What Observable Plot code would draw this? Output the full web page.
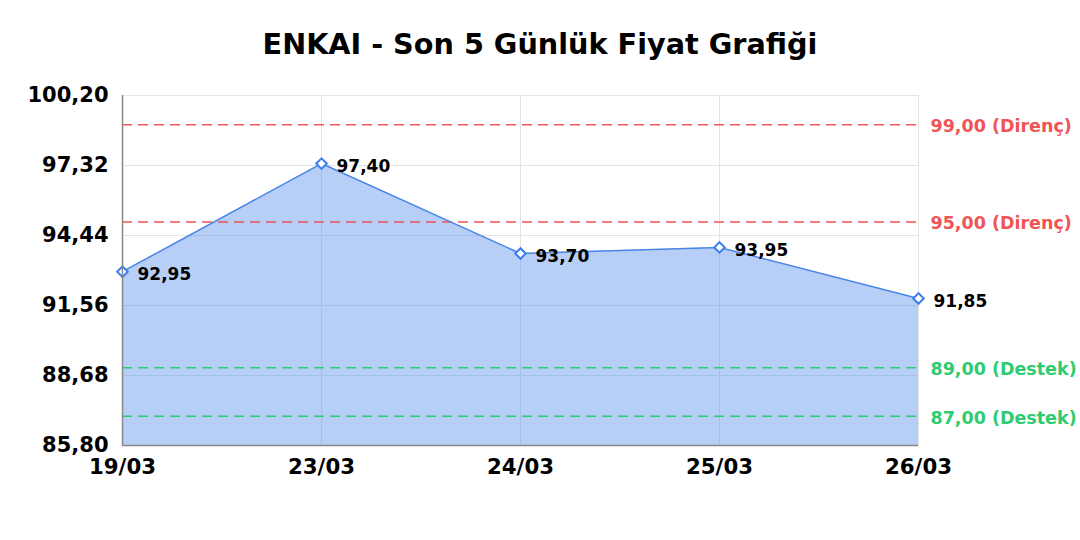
<!DOCTYPE html>
<html><head><meta charset="utf-8">
<script src="https://cdn.jsdelivr.net/npm/d3@7"></script>
<script src="https://cdn.jsdelivr.net/npm/@observablehq/plot@0.6"></script>
<style>
body{margin:0;background:#fff;font-family:"DejaVu Sans",sans-serif;}
#title{height:80px;box-sizing:border-box;padding-top:27px;text-align:center;font-weight:bold;font-size:28.7px;color:#000;line-height:34px;}
svg{display:block;}
</style></head><body>
<div id="title">ENKAI - Son 5 Günlük Fiyat Grafiği</div>
<div id="chart"></div>
<script>
const dates = ["19/03","23/03","24/03","25/03","26/03"];
const prices = [92.95, 97.40, 93.70, 93.95, 91.85];
const yTicks = [85.80, 88.68, 91.56, 94.44, 97.32, 100.20];
const resistance = [99.00, 95.00];
const support = [89.00, 87.00];
const yDomain = [85.80, 100.20];

const data = dates.map((d,i)=>({date:d, price:prices[i]}));
const fmt = v => v.toFixed(2).replace(".", ",");
const refs = [
  ...resistance.map(v=>({v, label: fmt(v)+" (Direnç)", color:"#f05454"})),
  ...support.map(v=>({v, label: fmt(v)+" (Destek)", color:"#2ecc71"}))
];

const chart = Plot.plot({
  width:1080, height:460,
  marginTop:15, marginBottom:95, marginLeft:122, marginRight:162,
  style:{fontFamily:"DejaVu Sans, sans-serif", background:"#fff"},
  x:{type:"point", domain:dates, padding:0, label:null},
  y:{domain:yDomain, label:null},
  color:{type:"identity"},
  marks:[
    Plot.gridY(yTicks, {stroke:"#e4e4e4", strokeOpacity:1}),
    Plot.gridX(dates, {stroke:"#e4e4e4", strokeOpacity:1}),
    Plot.areaY(data, {x:"date", y1:yDomain[0], y2:"price", fill:"#4a86e8", fillOpacity:0.4}),
    Plot.ruleY(refs, {y:"v", stroke:"color", strokeDasharray:"10,6", strokeWidth:1.5}),
    Plot.text(refs, {y:"v", frameAnchor:"right", text:"label", fill:"color", textAnchor:"start", dx:12, dy:2, fontWeight:"bold", fontSize:17.5}),
    Plot.lineY(data, {x:"date", y:"price", stroke:"#4a86e8", strokeWidth:1.5}),
    Plot.dot(data, {x:"date", y:"price", symbol:"square", rotate:45, r:4.2, fill:"white", stroke:"#3b7ded", strokeWidth:2}),
    Plot.text(data, {x:"date", y:"price", text:d=>fmt(d.price), textAnchor:"start", dx:15, dy:3, fontWeight:"bold", fontSize:17, fill:"#000"}),
    Plot.ruleX([dates[0]], {stroke:"#888", strokeWidth:1.5}),
    Plot.ruleY([yDomain[0]], {stroke:"#888", strokeWidth:1.5}),
    Plot.axisY(yTicks, {tickFormat:fmt, tickSize:0, tickPadding:14, fontSize:21, fontWeight:"bold", fill:"#000"}),
    Plot.axisX(dates, {tickSize:0, tickPadding:13, fontSize:21.3, fontWeight:"bold", fill:"#000"})
  ]
});
document.getElementById("chart").appendChild(chart);
</script>
</body></html>
